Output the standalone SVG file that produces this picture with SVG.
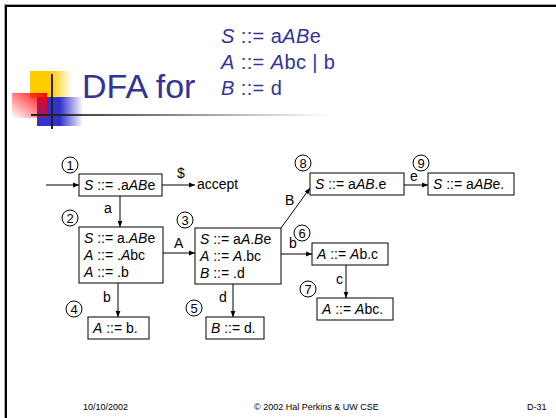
<svg xmlns="http://www.w3.org/2000/svg" width="556" height="418" viewBox="0 0 556 418">
<style>
text{font-family:"Liberation Sans",Arial,sans-serif;fill:#000}
.box{fill:#fff;stroke:#000;stroke-width:1}
.bt{font-size:14px}
.i{font-style:italic}
.circ{fill:#fff;stroke:#000;stroke-width:1}
.cn{font-size:13px;text-anchor:middle}
.edge{stroke:#000;stroke-width:1;fill:none;marker-end:url(#ah)}
.lbl{font-size:14px}
.title{fill:#333399}
.gram{font-size:20px;letter-spacing:0.4px}
.ft{font-size:9px}
</style>
<defs>
<marker id="ah" viewBox="0 0 10 10" refX="10" refY="5" markerWidth="6" markerHeight="6" markerUnits="userSpaceOnUse" orient="auto">
<path d="M0,1 L10,5 L0,9 z" fill="#000"/>
</marker>
<linearGradient id="gy" x1="0" y1="0" x2="1" y2="0"><stop offset="0.5" stop-color="#FFCC00"/><stop offset="1" stop-color="#FFCC00" stop-opacity="0"/></linearGradient>
<linearGradient id="gb" x1="0" y1="0" x2="1" y2="0"><stop offset="0.5" stop-color="#3333CC"/><stop offset="1" stop-color="#3333CC" stop-opacity="0"/></linearGradient>
<linearGradient id="gr" x1="1" y1="0" x2="0" y2="1"><stop offset="0" stop-color="#FF0000"/><stop offset="1" stop-color="#FF0000" stop-opacity="0"/></linearGradient>
<linearGradient id="gl" x1="0" y1="0" x2="1" y2="0"><stop offset="0" stop-color="#222"/><stop offset="1" stop-color="#222" stop-opacity="0"/></linearGradient>
</defs>
<rect width="556" height="418" fill="#fff"/>
<g id="frame">
<rect x="4" y="4" width="552" height="1" fill="#aaa"/>
<rect x="4" y="4" width="1" height="414" fill="#aaa"/>
<rect x="5" y="5" width="551" height="2" fill="#000"/>
<rect x="5" y="5" width="2" height="413" fill="#000"/>
</g>
<g id="logo">
<rect x="30" y="71" width="42" height="27" fill="url(#gy)"/>
<rect x="37" y="97" width="46" height="29" fill="url(#gb)"/>
<rect x="12" y="93" width="35" height="25" fill="url(#gr)"/>
<rect x="51" y="74" width="2" height="55" fill="#222"/>
<rect x="31" y="114" width="300" height="2" fill="url(#gl)"/>
</g>
<g id="title">
<text class="title" x="82" y="98" font-size="34">DFA for</text>
<text class="title gram" x="221" y="43"><tspan class="i">S</tspan> ::= a<tspan class="i">AB</tspan>e</text>
<text class="title gram" x="221" y="69"><tspan class="i">A</tspan> ::= <tspan class="i">A</tspan>bc | b</text>
<text class="title gram" x="221" y="95"><tspan class="i">B</tspan> ::= d</text>
</g>
<g id="connectors">
<path class="edge" d="M46,185 H79"/>
<path class="edge" d="M162,185 H195"/>
<text class="lbl" x="177" y="178">$</text>
<text class="lbl" x="197" y="189">accept</text>
<path class="edge" d="M120,196 V227"/>
<text class="lbl" x="104" y="213">a</text>
<path class="edge" d="M163,253 H195"/>
<text class="lbl" x="174" y="248">A</text>
<path class="edge" d="M118,283 V317"/>
<text class="lbl" x="103" y="302">b</text>
<path class="edge" d="M233,284 V317"/>
<text class="lbl" x="219" y="302">d</text>
<path class="edge" d="M281,254 H312"/>
<text class="lbl" x="289" y="248">b</text>
<path class="edge" d="M281,228 L310,188"/>
<text class="lbl" x="285" y="205">B</text>
<path class="edge" d="M404,185 H428"/>
<text class="lbl" x="410" y="181">e</text>
<path class="edge" d="M346,265 V298"/>
<text class="lbl" x="336" y="284">c</text>
</g>
<g id="n1">
<rect class="box" x="79" y="174" width="83" height="22"/>
<text class="bt" x="84" y="190"><tspan class="i">S</tspan> ::= .a<tspan class="i">AB</tspan>e</text>
<circle class="circ" cx="70" cy="165" r="8"/><text class="cn" x="70" y="170">1</text>
</g>
<g id="n2">
<rect class="box" x="79" y="227" width="84" height="56"/>
<text class="bt" x="84" y="243"><tspan class="i">S</tspan> ::= a.<tspan class="i">AB</tspan>e</text>
<text class="bt" x="84" y="260"><tspan class="i">A</tspan> ::= .<tspan class="i">A</tspan>bc</text>
<text class="bt" x="84" y="277"><tspan class="i">A</tspan> ::= .b</text>
<circle class="circ" cx="70" cy="218" r="8"/><text class="cn" x="70" y="223">2</text>
</g>
<g id="n3">
<rect class="box" x="195" y="228" width="86" height="56"/>
<text class="bt" x="200" y="244"><tspan class="i">S</tspan> ::= a<tspan class="i">A</tspan>.<tspan class="i">B</tspan>e</text>
<text class="bt" x="200" y="261"><tspan class="i">A</tspan> ::= <tspan class="i">A</tspan>.bc</text>
<text class="bt" x="200" y="278"><tspan class="i">B</tspan> ::= .d</text>
<circle class="circ" cx="185" cy="220" r="8"/><text class="cn" x="185" y="225">3</text>
</g>
<g id="n4">
<rect class="box" x="88" y="317" width="61" height="22"/>
<text class="bt" x="93" y="333"><tspan class="i">A</tspan> ::= b.</text>
<circle class="circ" cx="74" cy="309" r="8"/><text class="cn" x="74" y="314">4</text>
</g>
<g id="n5">
<rect class="box" x="206" y="317" width="58" height="22"/>
<text class="bt" x="211" y="333"><tspan class="i">B</tspan> ::= d.</text>
<circle class="circ" cx="194" cy="308" r="8"/><text class="cn" x="194" y="313">5</text>
</g>
<g id="n6">
<rect class="box" x="312" y="243" width="76" height="22"/>
<text class="bt" x="317" y="259"><tspan class="i">A</tspan> ::= <tspan class="i">A</tspan>b.c</text>
<circle class="circ" cx="302" cy="233" r="8"/><text class="cn" x="302" y="238">6</text>
</g>
<g id="n7">
<rect class="box" x="317" y="298" width="76" height="22"/>
<text class="bt" x="322" y="314"><tspan class="i">A</tspan> ::= <tspan class="i">A</tspan>bc.</text>
<circle class="circ" cx="308" cy="289" r="8"/><text class="cn" x="308" y="294">7</text>
</g>
<g id="n8">
<rect class="box" x="310" y="173" width="94" height="22"/>
<text class="bt" x="315" y="189"><tspan class="i">S</tspan> ::= a<tspan class="i">AB</tspan>.e</text>
<circle class="circ" cx="303" cy="163" r="8"/><text class="cn" x="303" y="168">8</text>
</g>
<g id="n9">
<rect class="box" x="428" y="173" width="86" height="22"/>
<text class="bt" x="433" y="189"><tspan class="i">S</tspan> ::= a<tspan class="i">AB</tspan>e.</text>
<circle class="circ" cx="421" cy="163" r="8"/><text class="cn" x="421" y="168">9</text>
</g>
<g id="footer">
<text class="ft" x="83" y="410">10/10/2002</text>
<text class="ft" x="254" y="410">© 2002 Hal Perkins &amp; UW CSE</text>
<text class="ft" x="527" y="410">D-31</text>
</g>
</svg>
